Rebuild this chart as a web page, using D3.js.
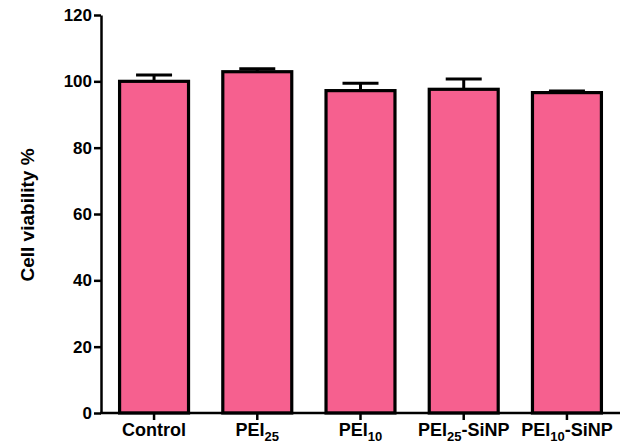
<!DOCTYPE html>
<html><head><meta charset="utf-8">
<script src="https://cdn.jsdelivr.net/npm/d3@7"></script>
<style>body{margin:0;background:#fff}text{font-family:"Liberation Sans",Arial,sans-serif;font-weight:bold}</style>
</head><body><svg id="c" width="625" height="445"></svg>
<script>
const categories = ["Control","PEI25","PEI10","PEI25-SiNP","PEI10-SiNP"];
const labelMain = ["Control","PEI","PEI","PEI","PEI"];
const labelSub = ["","25","10","25","10"];
const labelTail = ["","","","-SiNP","-SiNP"];
const values = [100, 102.9, 97.2, 97.6, 96.6];
const errors = [1.9, 0.9, 2.2, 3.1, 0.5];
const yTicks = [0,20,40,60,80,100,120];

const svg = d3.select("#c");
const x0 = 101, x1 = 620, yTop = 15, yBot = 413;
const x = d3.scaleBand().domain(categories).range([x0, x1]).paddingInner(0.332).paddingOuter(0.18);
const y = d3.scaleLinear().domain([0,120]).range([yBot, yTop]);
const fill = "#F6608F";

const g = svg.append("g");
g.selectAll("rect.bar").data(values).join("rect")
  .attr("x",(d,i)=>x(categories[i])).attr("y",d=>y(d))
  .attr("width",x.bandwidth()).attr("height",d=>yBot-y(d))
  .attr("fill",fill).attr("stroke","#000").attr("stroke-width",3.2);
const capW = 36;
values.forEach((v,i)=>{
  const cx = x(categories[i]) + x.bandwidth()/2;
  g.append("line").attr("x1",cx).attr("x2",cx).attr("y1",y(v)).attr("y2",y(v+errors[i])).attr("stroke","#000").attr("stroke-width",3);
  g.append("line").attr("x1",cx-capW/2).attr("x2",cx+capW/2).attr("y1",y(v+errors[i])).attr("y2",y(v+errors[i])).attr("stroke","#000").attr("stroke-width",3);
});
const ya = svg.append("g").attr("transform",`translate(${x0},0)`)
  .call(d3.axisLeft(y).tickValues(yTicks).tickSize(7).tickSizeOuter(0).tickPadding(2));
ya.select(".domain").attr("stroke-width",2.5);
ya.selectAll(".tick line").attr("stroke-width",2.5);
ya.selectAll(".tick text").attr("font-size",17).attr("fill","#000");
const xa = svg.append("g").attr("transform",`translate(0,${yBot})`)
  .call(d3.axisBottom(x).tickSize(7).tickSizeOuter(0).tickFormat(""));
xa.select(".domain").attr("stroke-width",2.5).attr("d",`M${x0-1},0H${x1}`);
xa.selectAll(".tick line").attr("stroke-width",2.5);
xa.selectAll(".tick").each(function(d,i){
  const t = d3.select(this).append("text").attr("y",23).attr("text-anchor","middle").attr("font-size",18).attr("fill","#000");
  t.append("tspan").text(labelMain[i]);
  if(labelSub[i]) t.append("tspan").attr("font-size",13).attr("dy",5).text(labelSub[i]);
  if(labelTail[i]) t.append("tspan").attr("dy",-5).text(labelTail[i]);
});
svg.append("text").attr("transform","translate(34,215) rotate(-90)").attr("text-anchor","middle")
  .attr("font-size",19).attr("fill","#000").text("Cell viability %");
</script></body></html>
